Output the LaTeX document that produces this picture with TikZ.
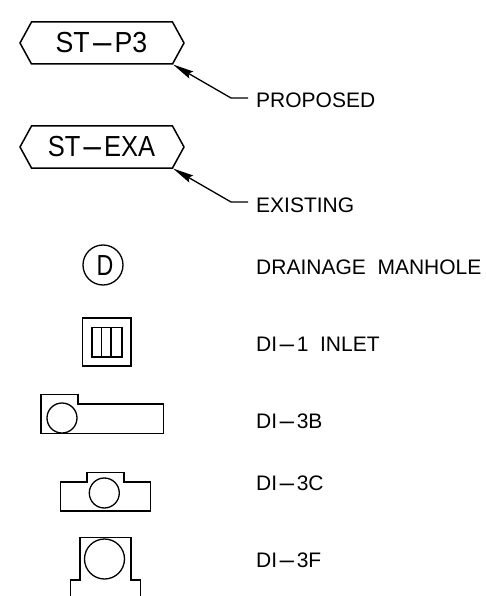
\documentclass[tikz,border=0pt]{standalone}
\usepackage{fontspec}
\setmainfont{Liberation Sans}
\usetikzlibrary{arrows.meta}
\newcommand{\lhy}{\scalebox{2.8}[1]{-}}
\tikzset{
  cad/.style={draw=black,line width=1.5pt,line join=miter},
  thin cad/.style={draw=black,line width=1.3pt},
  lead/.style={draw=black,line width=1.3pt,{Stealth[length=21pt,width=8pt,inset=3pt]}-},
  lbl/.style={anchor=west,inner sep=0pt,font=\fontsize{21}{21}\selectfont},
  tag/.style={anchor=center,inner sep=0pt,font=\fontsize{29}{29}\selectfont},
}
\begin{document}
\begin{tikzpicture}[x=1pt,y=-1pt]
\useasboundingbox (0,0) rectangle (486,596);
% tags
\draw[cad] (20,43)--(31.5,22)--(172.5,22)--(184,43)--(172.5,64)--(31.5,64)--cycle;
\node[tag] (t1) at (101.5,43) {\scalebox{0.92}[1]{ST\lhy P3}};
\coordinate (tipA) at (173,64.5);
\coordinate (kneeA) at (231,98);
\coordinate (endA) at (248,98);
\draw[lead] (tipA)--(kneeA)--(endA);
\node[lbl] (l1) at (256,100) {PROPOSED};
\draw[cad] (20,147)--(31.5,126)--(172.5,126)--(184,147)--(172.5,168)--(31.5,168)--cycle;
\node[tag] (t2) at (101.5,147) {\scalebox{0.88}[1]{ST\lhy EXA}};
\coordinate (tipB) at (173,168.5);
\coordinate (kneeB) at (231,202);
\coordinate (endB) at (248,202);
\draw[lead] (tipB)--(kneeB)--(endB);
\node[lbl] (l2) at (256,205) {EXISTING};
% manhole
\draw[thin cad] (103,265) circle (20);
\node[anchor=center,inner sep=0pt,font=\fontsize{29}{29}\selectfont] (d) at (105,265.5) {\scalebox{0.8}[1]{D}};
\node[lbl] (l3) at (256,267.5) {DRAINAGE\ \ MANHOLE};
% DI-1
\draw[cad] (82.5,318) rectangle (131,366);
\draw[cad] (92,327.5) rectangle (122,357);
\draw[cad] (101.5,327.5)--(101.5,357);
\draw[cad] (111,327.5)--(111,357);
\node[lbl] (l4) at (256,344.5) {DI\lhy 1\ \ INLET};
% DI-3B
\draw[cad] (41,394.5)--(78,394.5)--(78,404)--(163.5,404)--(163.5,433.5)--(41,433.5)--cycle;
\draw[thin cad] (62,418) circle (15);
\node[lbl] (l5) at (256,421.5) {DI\lhy 3B};
% DI-3C
\draw[cad] (60.7,482)--(87,482)--(87,472.7)--(124,472.7)--(124,482)--(150.7,482)--(150.7,511)--(60.7,511)--cycle;
\draw[thin cad] (104.3,493) circle (15);
\node[lbl] (l6) at (256,483.5) {DI\lhy 3C};
% DI-3F
\draw[cad] (70.5,596)--(70.5,580)--(80,580)--(80,537.7)--(131,537.7)--(131,580)--(140.5,580)--(140.5,596);
\draw[thin cad] (104.5,559) circle (20);
\node[lbl] (l7) at (256,560) {DI\lhy 3F};
\end{tikzpicture}
\end{document}
